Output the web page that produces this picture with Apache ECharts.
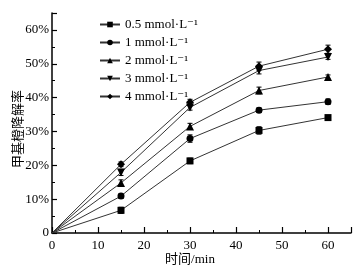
<!DOCTYPE html>
<html>
<head>
<meta charset="utf-8">
<script src="https://cdn.jsdelivr.net/npm/echarts@6/dist/echarts.min.js"></script>
<style>
  html, body { margin: 0; padding: 0; background: #fff; }
  #chart { width: 362px; height: 270px; }
</style>
</head>
<body>
<div id="chart"></div>
<script>
const FONT = '"Liberation Serif", "DejaVu Serif", serif';

let times = [0, 15, 30, 45, 60];
let seriesNames = ['0.5 mmol·L⁻¹', '1 mmol·L⁻¹', '2 mmol·L⁻¹', '3 mmol·L⁻¹', '4 mmol·L⁻¹'];

// degradation rate (%) at 0, 15, 30, 45, 60 min
let rate05 = [0, 6.7, 21.3, 30.3, 34.1];
let rate1 = [0, 10.9, 27.9, 36.3, 38.8];
let rate2 = [0, 14.8, 31.5, 42.1, 46.1];
let rate3 = [0, 17.9, 37.1, 48.0, 52.0];
let rate4 = [0, 20.3, 38.6, 49.3, 54.3];

// error bar half-height (%)
let err05 = [0, 0.9, 0.8, 1.1, 0.6];
let err1 = [0, 0.7, 1.1, 0.7, 0.8];
let err2 = [0, 0.9, 0.9, 1.0, 0.6];
let err3 = [0, 0.9, 0.8, 1.0, 0.7];
let err4 = [0, 0.7, 0.9, 1.2, 1.2];

let rates = [rate05, rate1, rate2, rate3, rate4];
let errs = [err05, err1, err2, err3, err4];
let symbols = ['rect', 'circle', 'triangle', 'path://M0,0 L10,0 L5,9 Z', 'diamond'];
let symbolSizes = [7, 7, 8, 8, 8];

var chartDom = document.getElementById('chart');
var myChart = echarts.init(chartDom);

var lineSeries = rates.map(function (r, i) {
  return {
    name: seriesNames[i],
    type: 'line',
    data: times.map(function (t, j) { return [t, r[j]]; }),
    symbol: symbols[i],
    symbolSize: function (v) { return v[0] === 0 ? 0 : symbolSizes[i]; },
    showAllSymbol: true,
    lineStyle: { color: '#333', width: 1 },
    itemStyle: { color: '#000' },
    z: 3
  };
});

var errorSeries = rates.map(function (r, i) {
  return {
    type: 'custom',
    data: times.map(function (t, j) { return [t, r[j] - errs[i][j], r[j] + errs[i][j]]; })
      .filter(function (d) { return d[0] > 0; }),
    renderItem: function (params, api) {
      var lo = api.coord([api.value(0), api.value(1)]);
      var hi = api.coord([api.value(0), api.value(2)]);
      var w = 2.5;
      var style = { stroke: '#000', lineWidth: 1 };
      return {
        type: 'group',
        children: [
          { type: 'line', shape: { x1: lo[0], y1: lo[1], x2: hi[0], y2: hi[1] }, style: style },
          { type: 'line', shape: { x1: lo[0] - w, y1: lo[1], x2: lo[0] + w, y2: lo[1] }, style: style },
          { type: 'line', shape: { x1: hi[0] - w, y1: hi[1], x2: hi[0] + w, y2: hi[1] }, style: style }
        ]
      };
    },
    silent: true,
    z: 2
  };
});

option = {
  animation: false,
  backgroundColor: '#fff',
  textStyle: { fontFamily: FONT, color: '#000' },
  grid: { left: 52, right: 11, top: 13, bottom: 37, outerBoundsMode: 'none', containLabel: false },
  legend: {
    orient: 'vertical',
    left: 94,
    top: 13,
    itemWidth: 20,
    itemHeight: 7,
    itemGap: 5,
    data: seriesNames,
    textStyle: { fontFamily: FONT, fontSize: 13, color: '#000' }
  },
  xAxis: [
    {
      type: 'value',
      min: 0,
      max: 65,
      interval: 10,
      name: '时间/min',
      nameLocation: 'middle',
      nameGap: 20,
      nameMoveOverlap: false,
      nameTextStyle: { fontFamily: FONT + ', "Noto Sans CJK SC"', fontSize: 13, color: '#000', padding: [0, 23, 0, 0] },
      axisLine: { lineStyle: { color: '#000', width: 1.5 } },
      axisTick: { inside: true, length: 6, lineStyle: { color: '#000', width: 1.2 } },
      axisLabel: {
        color: '#000', fontSize: 13, fontFamily: FONT, margin: 6,
        formatter: function (v) { return v <= 60 ? v : ''; }
      },
      splitLine: { show: false }
    },
    {
      type: 'value',
      min: 0,
      max: 65,
      interval: 5,
      position: 'bottom',
      axisLine: { show: false },
      axisTick: { inside: true, length: 3, lineStyle: { color: '#000', width: 1 } },
      axisLabel: { show: false },
      splitLine: { show: false }
    }
  ],
  yAxis: [
    {
      type: 'value',
      min: 0,
      max: 65,
      interval: 10,
      name: '甲基橙降解率',
      nameLocation: 'middle',
      nameGap: 28,
      nameMoveOverlap: false,
      nameTextStyle: { fontFamily: '"Noto Sans CJK SC"', fontSize: 13, color: '#000', padding: [0, 12, 0, 0] },
      axisLine: { lineStyle: { color: '#000', width: 1.5 } },
      axisTick: { inside: true, length: 5, lineStyle: { color: '#000', width: 1.2 } },
      axisLabel: {
        color: '#000', fontSize: 13, fontFamily: FONT, margin: 3,
        formatter: function (v) { return v === 0 ? '0' : (v <= 60 ? v + '%' : ''); }
      },
      splitLine: { show: false }
    },
    {
      type: 'value',
      min: 0,
      max: 65,
      interval: 5,
      position: 'left',
      axisLine: { show: false },
      axisTick: { inside: true, length: 3, lineStyle: { color: '#000', width: 1 } },
      axisLabel: { show: false },
      splitLine: { show: false }
    }
  ],
  series: lineSeries.concat(errorSeries)
};

myChart.setOption(option);
</script>
</body>
</html>
